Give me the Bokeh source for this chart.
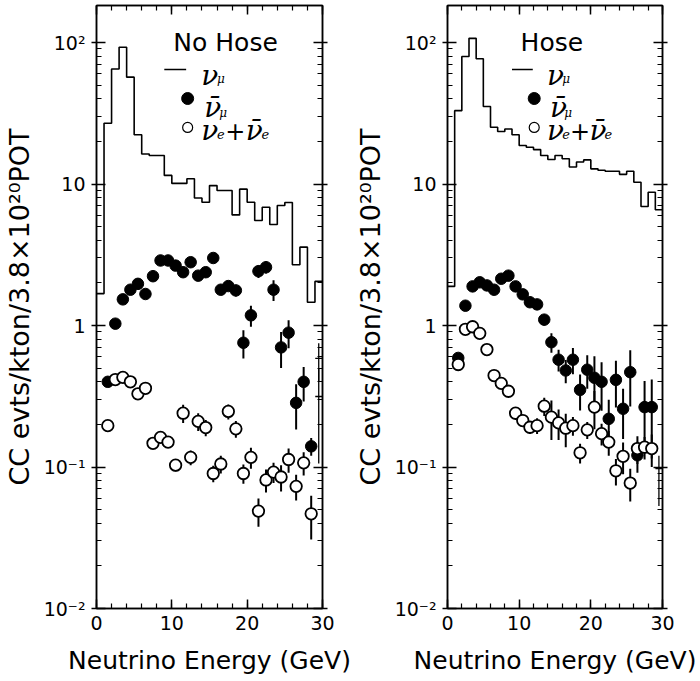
import numpy as np
from bokeh.plotting import figure
from bokeh.models import (Range1d, LogAxis, LinearAxis, SingleIntervalTicker,
                          LogTicker, CustomJSTickFormatter, Label)
from bokeh.layouts import row
from bokeh.embed import file_html
from bokeh.resources import INLINE

# ---------------- data ----------------
bin_edges = list(range(0, 31))
bin_centers = [i + 0.5 for i in range(1, 29)]          # 1.5 ... 28.5

# nu_mu histograms (events per 1 GeV bin)
numu_nohose = [1.68, 26.9, 65, 92.6, 56.9, 22.3, 16.3, 15.9, 15.9, 11.5,
               10.1, 10.1, 10.9, 7.97, 7.43, 9.74, 8.99, 9.0, 6.05, 9.2,
               7.43, 5.52, 6.85, 5.17, 7.05, 7.4, 2.69, 3.58, 1.46, 2.05]
numu_hose = [1.89, 33.0, 79.6, 107, 76.7, 35.3, 25.2, 23.5, 24.5, 22.3,
             18.7, 18.2, 17.5, 15.9, 14.9, 15.9, 15.1, 13.2, 14.3, 14.8,
             12.8, 12.5, 12.3, 12.3, 11.7, 12.3, 10.3, 6.93, 8.75, 6.58]

# anti nu_mu (filled)
numubar_nohose = [0.40, 1.03, 1.53, 1.79, 1.97, 1.67, 2.23, 2.88, 2.88, 2.65,
                  2.38, 2.80, 2.25, 2.38, 3.0, 1.79, 1.90, 1.77, 0.755, 1.18,
                  2.42, 2.58, 1.79, 0.70, 0.89, 0.284, 0.40, 0.14]
numubar_nohose_err = [0.03, 0.06, 0.08, 0.09, 0.1, 0.1, 0.12, 0.14, 0.14, 0.14,
                      0.14, 0.15, 0.15, 0.15, 0.17, 0.15, 0.15, 0.17, 0.17, 0.2,
                      0.25, 0.25, 0.3, 0.2, 0.2, 0.1, 0.11, 0.02]
numubar_hose = [0.59, 1.38, 1.89, 2.02, 1.92, 1.79, 2.14, 2.25, 1.89, 1.66,
                1.46, 1.41, 1.10, 0.762, 0.573, 0.481, 0.573, 0.351, 0.487, 0.427,
                0.40, 0.219, 0.413, 0.258, 0.468, 0.121, 0.265, 0.265]
numubar_hose_err = [0.04, 0.06, 0.08, 0.09, 0.09, 0.09, 0.1, 0.1, 0.1, 0.1,
                    0.1, 0.1, 0.1, 0.12, 0.1, 0.09, 0.12, 0.1, 0.13, 0.18,
                    0.15, 0.08, 0.15, 0.1, 0.2, 0.03, 0.14, 0.15]

# nu_e + anti nu_e (open)
nue_nohose = [0.196, 0.415, 0.43, 0.40, 0.329, 0.36, 0.147, 0.162, 0.150, 0.103,
              0.24, 0.117, 0.21, 0.19, 0.090, 0.105, 0.247, 0.186, 0.090, 0.117,
              0.0488, 0.081, 0.092, 0.085, 0.113, 0.073, 0.107, 0.0467]
nue_nohose_err = [0.01, 0.02, 0.02, 0.02, 0.02, 0.02, 0.012, 0.014, 0.014, 0.01,
                  0.035, 0.014, 0.03, 0.025, 0.012, 0.015, 0.03, 0.025, 0.014, 0.02,
                  0.011, 0.015, 0.015, 0.018, 0.022, 0.015, 0.02, 0.016]
nue_hose = [0.53, 0.94, 0.98, 0.88, 0.676, 0.443, 0.39, 0.343, 0.24, 0.213,
            0.191, 0.196, 0.269, 0.225, 0.205, 0.188, 0.196, 0.126, 0.183, 0.265,
            0.172, 0.150, 0.094, 0.119, 0.077, 0.135, 0.138, 0.135]
nue_hose_err = [0.02, 0.03, 0.03, 0.03, 0.03, 0.03, 0.03, 0.03, 0.025, 0.02,
                0.02, 0.025, 0.04, 0.07, 0.05, 0.05, 0.03, 0.02, 0.025, 0.08,
                0.03, 0.03, 0.02, 0.03, 0.02, 0.03, 0.025, 0.035]

# last-bin (29.5 GeV) entries drawn only as error bars
last_nohose_x = [29.5, 29.5]
last_nohose_val = [0.585, 0.315]
last_nohose_lo = [0.40, 0.106]
last_nohose_hi = [0.75, 0.50]
last_hose_x = [29.5]
last_hose_val = [0.0975]
last_hose_lo = [0.053]
last_hose_hi = [0.12]

YMIN, YMAX = 0.01, 10 ** 2.2615
FONT = "DejaVu Sans"

sup_fmt = CustomJSTickFormatter(code="""
const e = Math.round(Math.log10(tick));
if (e == 0) return '1';
if (e == 1) return '10';
const s = {'2':'\u00b2','-1':'\u207b\u00b9','-2':'\u207b\u00b2','3':'\u00b3'};
return '10' + (s[String(e)] || '');
""")


def style_axis(ax):
    ax.axis_line_width = 1.5
    ax.major_tick_line_width = 1.5
    ax.minor_tick_line_width = 1.2
    ax.major_tick_in = 9
    ax.major_tick_out = 0
    ax.minor_tick_in = 5
    ax.minor_tick_out = 0


def make_panel(title, hist, fy, fe, oy, oe, lx, lval, llo, lhi,
               width, bl, br):
    p = figure(width=width, height=681, x_range=Range1d(0, 30),
               y_range=Range1d(YMIN, YMAX), y_axis_type="log",
               output_backend="svg", toolbar_location=None,
               min_border_left=bl, min_border_right=br,
               min_border_top=5, min_border_bottom=73,
               x_axis_label="Neutrino Energy (GeV)",
               y_axis_label="CC evts/kton/3.8×10²⁰POT")
    p.grid.visible = False
    p.outline_line_color = "black"
    p.outline_line_width = 1.5
    p.background_fill_color = "white"
    p.border_fill_color = "white"

    p.xaxis.ticker = SingleIntervalTicker(interval=10, num_minor_ticks=5)
    p.yaxis.ticker = LogTicker(mantissas=[1], num_minor_ticks=10)
    p.yaxis.formatter = sup_fmt
    for ax in list(p.xaxis) + list(p.yaxis):
        style_axis(ax)
        ax.major_label_text_font = FONT
        ax.axis_label_text_font = FONT
        ax.axis_label_text_font_style = "normal"
        ax.axis_label_text_color = "black"
        ax.major_label_text_color = "black"
    p.xaxis.major_label_text_font_size = "19px"
    p.xaxis.axis_label_text_font_size = "25px"
    p.xaxis.major_label_standoff = 7
    p.xaxis.axis_label_standoff = 13
    p.yaxis.major_label_text_font_size = "19px"
    p.yaxis.axis_label_text_font_size = "27px"
    p.yaxis.major_label_standoff = 6
    p.yaxis.axis_label_standoff = 6
    p.yaxis.major_tick_out = 5

    empty = CustomJSTickFormatter(code="return '';")
    top = LinearAxis(ticker=SingleIntervalTicker(interval=10, num_minor_ticks=5),
                     formatter=empty, major_label_standoff=0)
    style_axis(top)
    p.add_layout(top, "above")
    right = LogAxis(ticker=LogTicker(mantissas=[1], num_minor_ticks=10),
                    formatter=empty, major_label_standoff=0)
    style_axis(right)
    right.major_tick_out = 5
    p.add_layout(right, "right")

    # nu_mu histogram
    p.step(x=bin_edges, y=hist + [hist[-1]], mode="after",
           line_color="black", line_width=1.6)

    # error bars
    p.segment(x0=bin_centers, x1=bin_centers,
              y0=[v - e for v, e in zip(fy, fe)], y1=[v + e for v, e in zip(fy, fe)],
              line_color="black", line_width=2)
    p.segment(x0=bin_centers, x1=bin_centers,
              y0=[v - e for v, e in zip(oy, oe)], y1=[v + e for v, e in zip(oy, oe)],
              line_color="black", line_width=2)
    p.segment(x0=lx, x1=lx, y0=llo, y1=lhi, line_color="black", line_width=1.3)
    p.scatter(lx, lval, marker="dash", size=7, line_color="black", line_width=1.3)

    # markers
    p.scatter(bin_centers, fy, size=11.5, marker="circle",
              fill_color="black", line_color="black")
    p.scatter(bin_centers, oy, size=11.5, marker="circle",
              fill_color="white", line_color="black", line_width=1.8)

    # legend block
    p.add_layout(Label(x=10.2, y=100, text=title, text_font=FONT,
                       text_font_size="25px", text_color="black",
                       text_baseline="alphabetic"))
    p.line([9.0, 11.9], [64.4, 64.4], line_color="black", line_width=1.4)
    p.scatter([12.1], [40.2], size=12, fill_color="black", line_color="black")
    p.scatter([12.1], [25.1], size=10, fill_color="white", line_color="black",
              line_width=1.2)

    def lab(x, y, t, size):
        p.add_layout(Label(x=x, y=y, text=t, text_font="DejaVu Serif",
                           text_font_style="italic", text_font_size=size,
                           text_color="black", text_baseline="alphabetic"))

    lab(13.9, 58.5, "ν", "28px")
    lab(16.0, 54.8, "μ", "12px")
    lab(14.3, 34.8, "ν̄", "28px")
    lab(16.3, 32.0, "μ", "12px")
    lab(13.9, 23.9, "ν", "28px")
    lab(16.0, 22.5, "e", "13px")
    p.add_layout(Label(x=17.1, y=23.6, text="+", text_font=FONT,
                       text_font_size="24px", text_color="black",
                       text_baseline="alphabetic"))
    lab(19.8, 23.9, "ν̄", "28px")
    lab(21.9, 22.5, "e", "13px")
    return p


left = make_panel("No Hose", numu_nohose, numubar_nohose, numubar_nohose_err,
                  nue_nohose, nue_nohose_err, last_nohose_x, last_nohose_val,
                  last_nohose_lo, last_nohose_hi, 351, 95, 29)
right = make_panel("Hose", numu_hose, numubar_hose, numubar_hose_err,
                   nue_hose, nue_hose_err, last_hose_x, last_hose_val,
                   last_hose_lo, last_hose_hi, 349, 85, 38)

layout = row(left, right)
open("out.html", "w").write(file_html(layout, INLINE))
